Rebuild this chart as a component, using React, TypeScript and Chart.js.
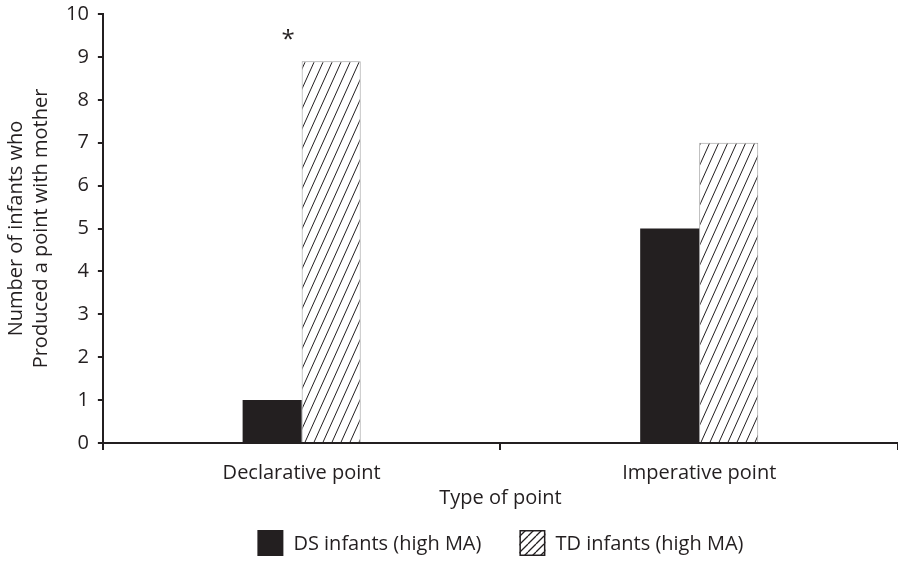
import React, { useEffect, useRef } from "react";
import { Chart, registerables } from "chart.js";

Chart.register(...registerables);

const categories = ["Declarative point", "Imperative point"];
const dsValues = [1, 5];
const tdValues = [8.9, 7];
const seriesNames = ["DS infants (high MA)", "TD infants (high MA)"];
const tdAnnotations = ["*", ""];
const yTicks = [0, 1, 2, 3, 4, 5, 6, 7, 8, 9, 10];

const INK = "#231f20";
const FONT = "'Open Sans', 'Noto Sans', sans-serif";
const FS = 20;

function makeHatch(): CanvasPattern | string {
  const c = document.createElement("canvas");
  c.width = 9;
  c.height = 20;
  const g = c.getContext("2d");
  if (!g) return "#fff";
  g.fillStyle = "#ffffff";
  g.fillRect(0, 0, 9, 20);
  g.strokeStyle = INK;
  g.lineWidth = 1;
  g.beginPath();
  for (const dx of [-9, 0, 9]) {
    g.moveTo(dx + 0, 20);
    g.lineTo(dx + 9, 0);
  }
  g.stroke();
  const p = g.createPattern(c, "repeat");
  return p || "#fff";
}

function makeLegendHatch(): CanvasPattern | string {
  const c = document.createElement("canvas");
  c.width = 8;
  c.height = 8;
  const g = c.getContext("2d");
  if (!g) return "#fff";
  g.fillStyle = "#ffffff";
  g.fillRect(0, 0, 8, 8);
  g.strokeStyle = INK;
  g.lineWidth = 1.3;
  g.beginPath();
  for (const dx of [-8, 0, 8]) {
    g.moveTo(dx, 8);
    g.lineTo(dx + 8, 0);
  }
  g.stroke();
  return g.createPattern(c, "repeat") || "#fff";
}

const annotationPlugin = {
  id: "asterisk",
  afterDatasetsDraw(chart: any) {
    const meta = chart.getDatasetMeta(1);
    const ctx = chart.ctx;
    ctx.save();
    ctx.fillStyle = INK;
    ctx.font = `24px ${FONT}`;
    ctx.textAlign = "center";
    ctx.textBaseline = "middle";
    meta.data.forEach((el: any, i: number) => {
      const t = tdAnnotations[i];
      if (!t) return;
      ctx.fillText(t, el.x - 43, el.y - 21);
    });
    ctx.restore();
  },
};

const legendPlugin = {
  id: "bottomLegend",
  afterDraw(chart: any) {
    const ctx = chart.ctx;
    const area = chart.chartArea;
    const box = 26;
    const gap = 10;
    const spacing = 38;
    ctx.save();
    ctx.font = `${FS}px ${FONT}`;
    const widths = chart.data.datasets.map((d: any) => box + gap + ctx.measureText(d.label).width);
    const total = widths.reduce((a: number, b: number) => a + b, 0) + spacing * (widths.length - 1);
    let x = (area.left + area.right) / 2 - total / 2;
    const cy = 543;
    const legendFills = [INK, makeLegendHatch()];
    chart.data.datasets.forEach((d: any, i: number) => {
      ctx.fillStyle = legendFills[i] as any;
      ctx.fillRect(x, cy - box / 2, box, box);
      if (i === 1) {
        ctx.strokeStyle = INK;
        ctx.lineWidth = 1.5;
        ctx.strokeRect(x + 0.75, cy - box / 2 + 0.75, box - 1.5, box - 1.5);
      }
      ctx.fillStyle = INK;
      ctx.textAlign = "left";
      ctx.textBaseline = "middle";
      ctx.fillText(d.label, x + box + gap, cy + 1);
      x += widths[i] + spacing;
    });
    ctx.restore();
  },
};

export default function App() {
  const ref = useRef<HTMLCanvasElement>(null);
  useEffect(() => {
    document.body.style.margin = "0";
    const hatch = makeHatch();
    const chart = new Chart(ref.current!, {
      type: "bar",
      data: {
        labels: categories,
        datasets: [
          {
            label: seriesNames[0],
            data: dsValues,
            backgroundColor: INK,
            borderColor: INK,
            borderWidth: 0,
            categoryPercentage: 0.297,
            barPercentage: 1,
          },
          {
            label: seriesNames[1],
            data: tdValues,
            backgroundColor: hatch as any,
            borderColor: "#9a9a9a",
            borderWidth: 1,
            categoryPercentage: 0.297,
            barPercentage: 1,
          },
        ],
      },
      options: {
        animation: false,
        responsive: false,
        layout: { padding: { top: 14, right: 0, left: 0, bottom: 53 } },
        plugins: {
          legend: { display: false },
          tooltip: { enabled: false },
        },
        scales: {
          x: {
            border: { color: INK, width: 2 },
            grid: { display: true, offset: true, drawOnChartArea: false, drawTicks: true, tickLength: 7, color: INK, lineWidth: 2 },
            ticks: { color: INK, font: { family: FONT, size: FS, lineHeight: 1 }, padding: 13 },
            title: { display: true, text: "Type of point", color: INK, font: { family: FONT, size: FS, lineHeight: 1 }, padding: { top: -8, bottom: 0 } },
          },
          y: {
            min: 0,
            max: 10,
            afterBuildTicks: (axis: any) => {
              axis.ticks = yTicks.map((v) => ({ value: v }));
            },
            afterFit: (axis: any) => {
              axis.paddingTop = 0;
            },
            border: { color: INK, width: 2 },
            grid: { display: true, drawOnChartArea: false, drawTicks: true, tickLength: 5, color: INK, lineWidth: 2 },
            ticks: { color: INK, font: { family: FONT, size: FS }, padding: 9 },
            title: {
              display: true,
              text: ["Number of infants who", "Produced a point with mother"],
              color: INK,
              font: { family: FONT, size: FS, lineHeight: 1.25 },
              padding: { top: 4, bottom: 3 },
            },
          },
        },
      },
      plugins: [annotationPlugin, legendPlugin],
    });
    return () => chart.destroy();
  }, []);
  return <canvas ref={ref} width={898} height={561} style={{ display: "block" }} />;
}
